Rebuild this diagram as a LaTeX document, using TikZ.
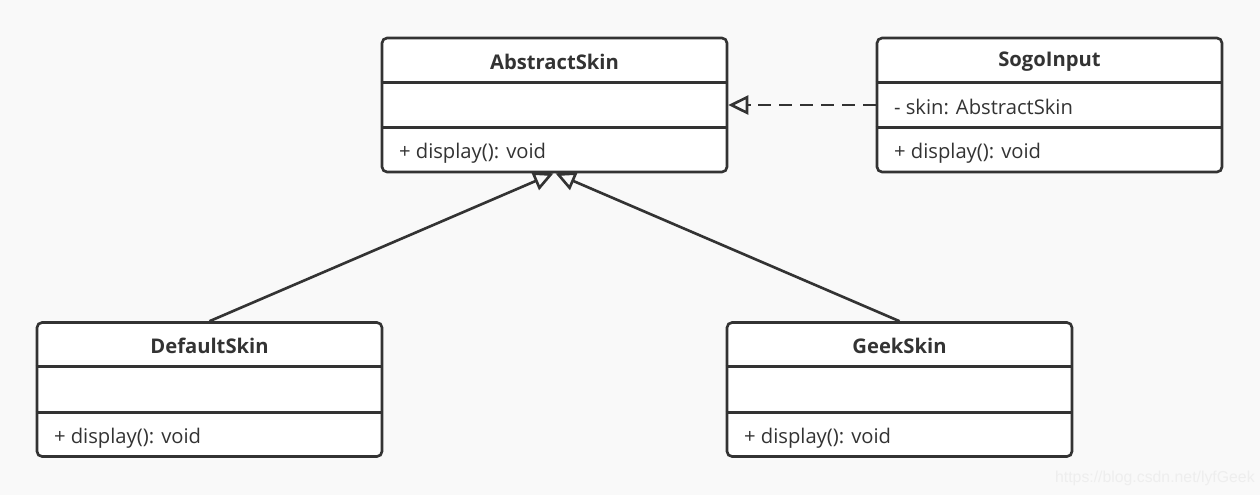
\documentclass[tikz,border=0pt]{standalone}
\usepackage{fontspec}
\setmainfont{Open Sans}
\newfontfamily\markfont{Liberation Sans}
\usetikzlibrary{calc}
\usetikzlibrary{arrows.meta}
\definecolor{ink}{HTML}{333333}
\definecolor{paper}{HTML}{F9F9F9}
\definecolor{markgray}{HTML}{EEEEEE}
\tikzstyle{classbox} = [rectangle, draw=ink, fill=white, line width=1.5pt,
rounded corners=0.1cm, minimum width=6.9cm, minimum height=2.68cm, inner sep=0pt]
\tikzstyle{divider} = [draw=ink, line width=1.5pt]
\tikzstyle{classname} = [font=\fontsize{11.5}{11.5}\selectfont\bfseries, text=ink, inner sep=0pt]
\tikzstyle{memberline} = [font=\fontsize{11.5}{11.5}\selectfont, text=ink, inner sep=0pt, anchor=west]
\tikzstyle{inherit} = [draw=ink, line width=1.5pt,
-{Triangle[open, length=0.4cm, width=0.38cm]}]
\tikzstyle{realize} = [draw=ink, line width=1.5pt, dash pattern=on 0.26cm off 0.16cm,
shorten >=0.4cm]
\newcommand{\umlclass}[5]{ %
  % #1 node name, #2 centre, #3 class, #4 attribute, #5 operation
  \node[classbox] (#1) at (#2) {};
  \foreach \k in {1,2} { %
    \draw[divider] ($(#1.north west)!{\k/3}!(#1.south west)$)
      -- ($(#1.north east)!{\k/3}!(#1.south east)$);
  }
  \node[classname] (#1-name) at ($(#1.north)!{1/6}!(#1.south)+(0,2)$) {#3};
  \node[memberline] (#1-attr) at ($(#1.north west)!0.5!(#1.south west)+(18,2)$) {#4};
  \node[memberline] (#1-op) at ($(#1.north west)!{5/6}!(#1.south west)+(18,3)$) {#5};
}

\begin{document}
\begin{tikzpicture}[x=0.02cm, y=-0.02cm]
  \useasboundingbox[fill=paper] (0,0) rectangle (1260,495);

  \umlclass{abstract}{554.5,105}{AbstractSkin}{}{+ display(): void}
  \umlclass{sogo}{1049.5,105}{SogoInput}{- skin: AbstractSkin}{+ display(): void}
  \umlclass{default}{209.5,389.5}{DefaultSkin}{}{+ display(): void}
  \umlclass{geek}{899.5,389.5}{GeekSkin}{}{+ display(): void}

  % dashed line, then a solid head on it
  \draw[realize] (sogo.west) -- (abstract.east);
  \draw[inherit] ([xshift=0.45cm]abstract.east) -- (abstract.east);
  \draw[inherit] (default.north) -- ([xshift=-0.02cm]abstract.south);
  \draw[inherit] (geek.north) -- ([xshift=0.02cm]abstract.south);

  \node[font=\markfont\fontsize{9}{9}\selectfont, text=markgray, anchor=east,
    inner sep=0pt] (mark) at (1255,478) {https://blog.csdn.net/lyfGeek};
\end{tikzpicture}
\end{document}
